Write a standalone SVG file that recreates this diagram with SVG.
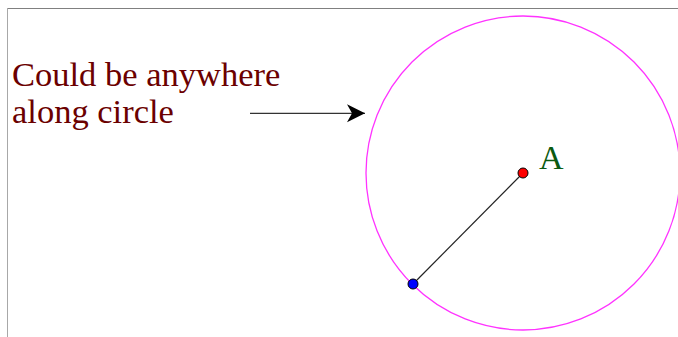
<svg xmlns="http://www.w3.org/2000/svg" width="678" height="337" viewBox="0 0 678 337">
<style>
.lbl{font-family:"Liberation Serif","Times New Roman",serif;}
.pt{stroke:#000;stroke-width:1}
</style>
<defs>
<marker id="ah" markerUnits="userSpaceOnUse" markerWidth="20" markerHeight="20" refX="18" refY="9" orient="auto">
<path d="M0,0 L18,9 L0,18 L5,9 Z" fill="#000"/>
</marker>
</defs>
<rect width="678" height="337" fill="#fff"/>
<line x1="7" y1="8.5" x2="678" y2="8.5" stroke="#808080" stroke-width="1"/>
<line x1="7.5" y1="8" x2="7.5" y2="337" stroke="#a8a8a8" stroke-width="1"/>
<g id="circle">
<circle cx="523" cy="173" r="157" fill="none" stroke="#ff33ff" stroke-width="1.3"/>
</g>
<g id="connectors">
<line x1="250" y1="113.3" x2="365" y2="113.3" stroke="#333" stroke-width="1.3" marker-end="url(#ah)"/>
<line x1="523" y1="173" x2="413" y2="284" stroke="#222" stroke-width="1.2"/>
</g>
<g id="label">
<text class="lbl" x="12" y="86" font-size="34.5" fill="#6b0000">Could be anywhere</text>
<text class="lbl" x="12" y="122.5" font-size="34.5" fill="#6b0000">along circle</text>
</g>
<g id="pointA">
<circle class="pt" cx="523" cy="173" r="5" fill="#ff0000"/>
<text class="lbl" x="539" y="169" font-size="34" fill="#0b5a10">A</text>
</g>
<g id="pointB">
<circle class="pt" cx="413" cy="284" r="5" fill="#0000ff"/>
</g>
</svg>
